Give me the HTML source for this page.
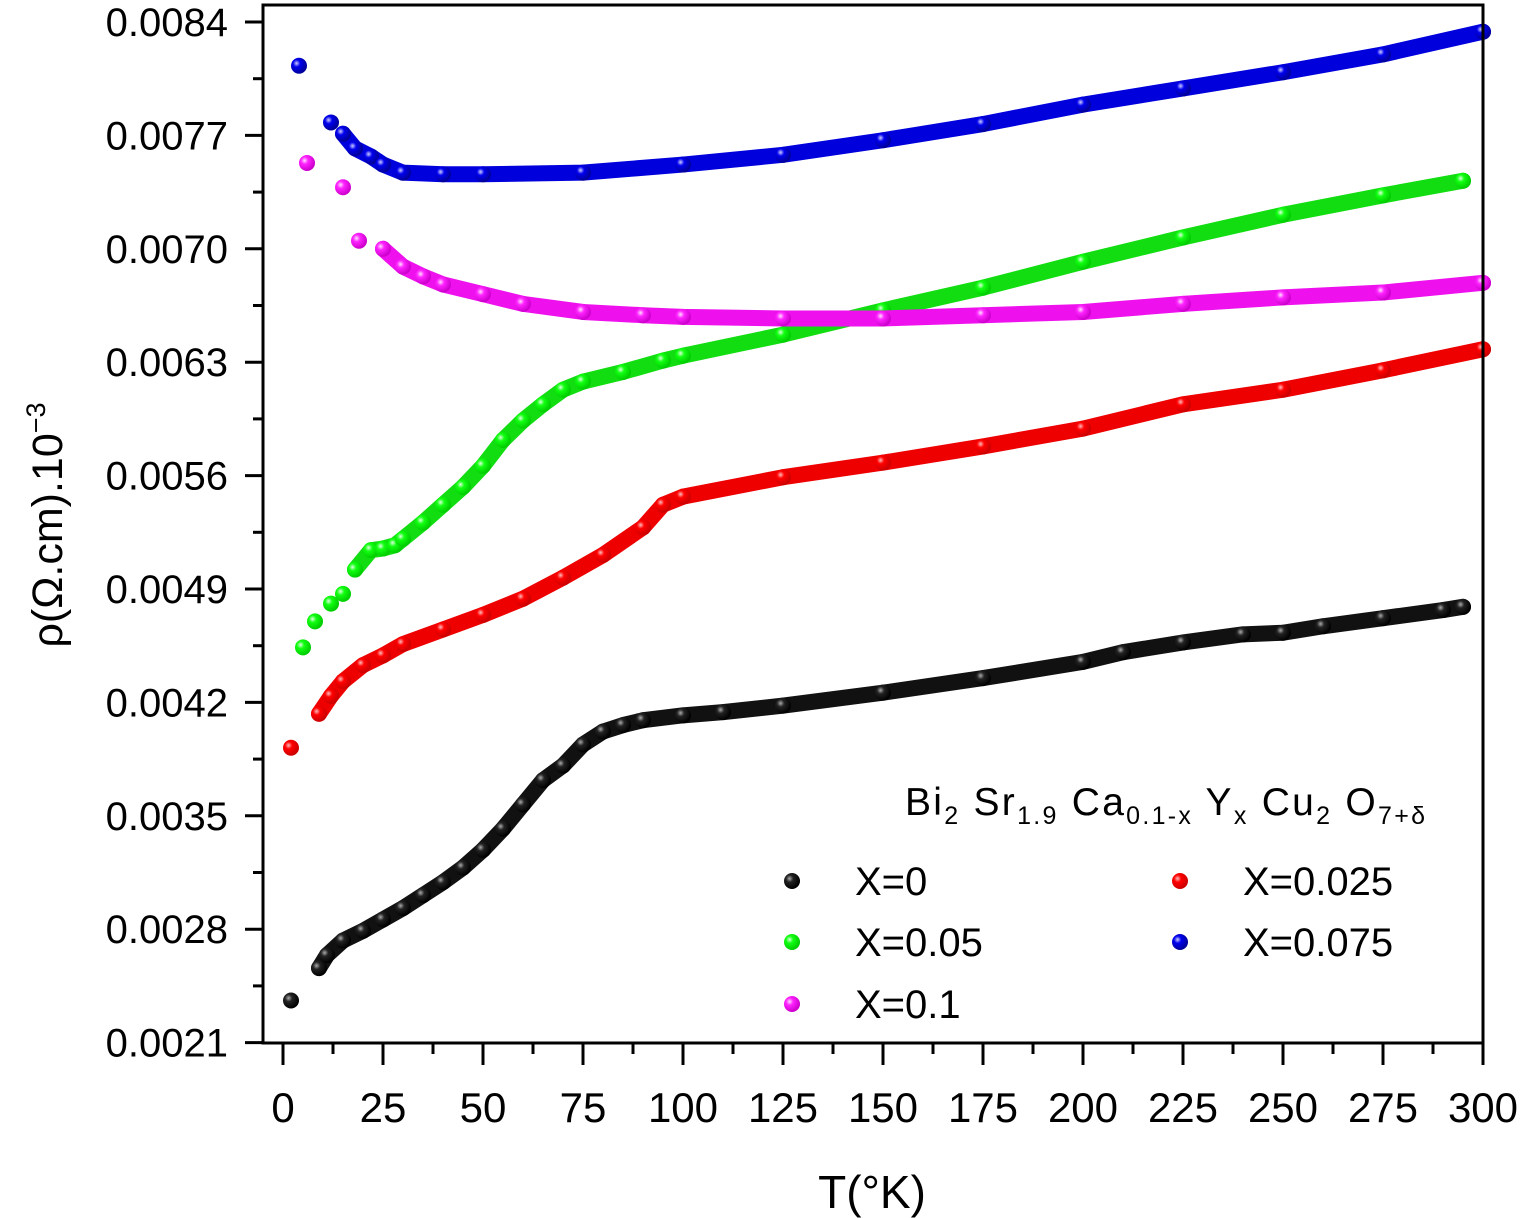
<!DOCTYPE html>
<html><head><meta charset="utf-8"><style>
body{margin:0;background:#fff;}
svg{display:block;font-family:"Liberation Sans",sans-serif;}
</style></head><body>
<svg id="chart" width="1522" height="1218" viewBox="0 0 1522 1218">
<defs>
<radialGradient id="gk" cx="35%" cy="35%" r="65%"><stop offset="0" stop-color="#aaa"/><stop offset="0.35" stop-color="#222"/><stop offset="1" stop-color="#000"/></radialGradient>
<radialGradient id="gr" cx="35%" cy="35%" r="65%"><stop offset="0" stop-color="#fbb"/><stop offset="0.35" stop-color="#f00"/><stop offset="1" stop-color="#c00"/></radialGradient>
<radialGradient id="gg" cx="35%" cy="35%" r="65%"><stop offset="0" stop-color="#dfd"/><stop offset="0.35" stop-color="#1f1"/><stop offset="1" stop-color="#0c0"/></radialGradient>
<radialGradient id="gm" cx="35%" cy="35%" r="65%"><stop offset="0" stop-color="#fdf"/><stop offset="0.35" stop-color="#f2f"/><stop offset="1" stop-color="#c0c"/></radialGradient>
<radialGradient id="gb" cx="35%" cy="35%" r="65%"><stop offset="0" stop-color="#ccf"/><stop offset="0.35" stop-color="#00e"/><stop offset="1" stop-color="#009"/></radialGradient>
</defs>
<g id="marks"></g>
<g id="axes"></g>
<text x="872" y="1208" font-size="46" text-anchor="middle">T(°K)</text>
<text transform="translate(62,525) rotate(-90)" font-size="43" text-anchor="middle">ρ(Ω.cm).10<tspan dy="-17" font-size="27">−3</tspan></text>
<text x="905" y="815" font-size="39" textLength="520">Bi<tspan dy="9" font-size="25">2</tspan><tspan dy="-9">  Sr</tspan><tspan dy="9" font-size="25">1.9</tspan><tspan dy="-9"> Ca</tspan><tspan dy="9" font-size="25">0.1-x</tspan><tspan dy="-9"> Y</tspan><tspan dy="9" font-size="25">x</tspan><tspan dy="-9"> Cu</tspan><tspan dy="9" font-size="25">2</tspan><tspan dy="-9"> O</tspan><tspan dy="9" font-size="25">7+δ</tspan></text>
<g id="legend"></g>
</svg>
<script>
const xTicks=[0,25,50,75,100,125,150,175,200,225,250,275,300];
const yTicks=[0.0021,0.0028,0.0035,0.0042,0.0049,0.0056,0.0063,0.0070,0.0077,0.0084];
const seriesNames=["X=0","X=0.025","X=0.05","X=0.075","X=0.1"];
const tBlack=[2,9,11,15,20,25,30,35,40,45,50,55,60,65,70,75,80,85,90,100,110,125,150,175,200,210,225,240,250,260,275,290,295];
const vBlack=[0.00236,0.00256,0.00264,0.00273,0.00279,0.00286,0.00293,0.00301,0.00309,0.00318,0.00329,0.00342,0.00357,0.00372,0.00381,0.00394,0.00402,0.00406,0.00409,0.00412,0.00414,0.00418,0.00426,0.00435,0.00445,0.00451,0.00457,0.00462,0.00463,0.00467,0.00472,0.00477,0.00479];
const tRed=[2,9,12,15,20,25,30,40,50,60,70,80,90,95,100,125,150,175,200,225,250,275,300];
const vRed=[0.00392,0.00413,0.00424,0.00433,0.00443,0.00449,0.00456,0.00465,0.00474,0.00484,0.00497,0.00511,0.00528,0.00542,0.00547,0.00559,0.00568,0.00578,0.00589,0.00604,0.00613,0.00625,0.00638];
const tGreen=[5,8,12,15,18,22,25,28,30,35,40,45,50,55,60,65,70,75,85,95,100,125,150,175,200,225,250,275,295];
const vGreen=[0.00454,0.00470,0.00481,0.00487,0.00502,0.00514,0.00515,0.00517,0.00521,0.00531,0.00542,0.00553,0.00566,0.00582,0.00594,0.00604,0.00613,0.00618,0.00624,0.00631,0.00634,0.00647,0.00662,0.00676,0.00692,0.00707,0.00721,0.00733,0.00742];
const tBlue=[4,12,15,18,22,25,30,40,50,75,100,125,150,175,200,225,250,275,300];
const vBlue=[0.00813,0.00778,0.00771,0.00762,0.00757,0.00752,0.00747,0.00746,0.00746,0.00747,0.00752,0.00758,0.00767,0.00777,0.00789,0.00799,0.00809,0.00820,0.00834];
const tMag=[6,15,19,25,30,35,40,50,60,75,90,100,125,150,175,200,225,250,275,300];
const vMag=[0.00753,0.00738,0.00705,0.00700,0.00689,0.00683,0.00678,0.00672,0.00666,0.00661,0.00659,0.00658,0.00657,0.00657,0.00659,0.00661,0.00666,0.00670,0.00673,0.00679];
const isolated=[1,1,4,2,3];

const NS="http://www.w3.org/2000/svg";
const X0=283,XS=4;
const xs=t=>X0+t*XS;
const ys=v=>22+(0.0084-v)/0.0007*113.4;
function mk(tag,attrs,parent){const e=document.createElementNS(NS,tag);for(const k in attrs)e.setAttribute(k,attrs[k]);parent.appendChild(e);return e;}
const marks=document.getElementById('marks');
const axes=document.getElementById('axes');
const series=[[tBlack,vBlack,"#111","gk"],[tRed,vRed,"#e00","gr"],[tGreen,vGreen,"#1d1","gg"],[tBlue,vBlue,"#00d","gb"],[tMag,vMag,"#e1e","gm"]];
series.forEach((s,si)=>{
  const [T,V,col,gid]=s;
  const g=mk('g',{},marks);
  
  
  const k=isolated[si];
  const pts=T.slice(k).map((t,i)=>xs(t)+','+ys(V[i+k])).join(' ');
  const pl=mk('polyline',{points:pts,fill:'none',stroke:col,'stroke-width':16,'stroke-linecap':'round','stroke-linejoin':'round'},g);
  
  
  T.forEach((t,i)=>{
    const c=mk('circle',{cx:xs(t),cy:ys(V[i]),r:8,fill:'url(#'+gid+')'},g);
    
    
  });
});
const fr=mk('rect',{x:263,y:5,width:1220,height:1038,fill:'none',stroke:'#000','stroke-width':3},axes);


xTicks.forEach((t,i)=>{
  const x=xs(t);
  const l=mk('line',{x1:x,y1:1043,x2:x,y2:1065,stroke:'#000','stroke-width':3},axes);
  
  
  if(i<xTicks.length-1){const xm=xs(t+12.5);
    const m=mk('line',{x1:xm,y1:1043,x2:xm,y2:1054,stroke:'#000','stroke-width':3},axes);
    
    }
  const tx=mk('text',{x:x,y:1122,'font-size':42,'text-anchor':'middle'},axes);
  tx.textContent=t;
  
  
});
yTicks.forEach((v,i)=>{
  const y=ys(v);
  const l=mk('line',{x1:245,y1:y,x2:263,y2:y,stroke:'#000','stroke-width':3},axes);
  
  
  if(i<yTicks.length-1){const ym=ys(v+0.00035);
    const m=mk('line',{x1:253,y1:ym,x2:263,y2:ym,stroke:'#000','stroke-width':3},axes);
    
    }
  const tx=mk('text',{x:228,y:y+14,'font-size':40,'text-anchor':'end'},axes);
  tx.textContent=v.toFixed(4);
  
  
});
const leg=document.getElementById('legend');
const legPos=[[792,881,0],[1180,881,1],[792,942,2],[1180,942,3],[792,1004,4]];
legPos.forEach(p=>{
  const [x,y,si]=p;
  const g=mk('g',{},leg);
  
  
  mk('circle',{cx:x,cy:y,r:8,fill:'url(#'+series[si][3]+')'},g);
  const t=mk('text',{x:x+63,y:y+14,'font-size':40},g);
  t.textContent=seriesNames[si];
});
</script>
</body></html>
